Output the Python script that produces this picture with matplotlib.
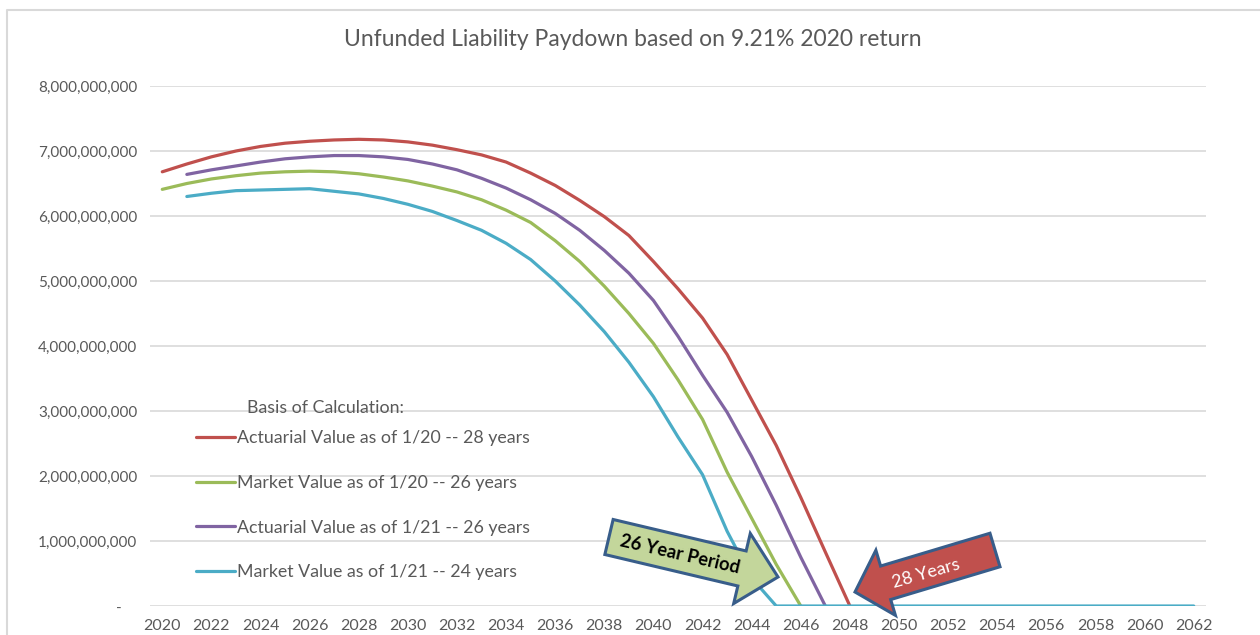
import numpy as np
import matplotlib
matplotlib.use("Agg")
from matplotlib import pyplot as plt
from matplotlib.patches import Polygon
from matplotlib.ticker import FuncFormatter

plt.rcParams['font.family'] = ['Lato', 'DejaVu Sans']

# data (billions)
years = list(range(2020, 2063))

act_20_years = list(range(2020, 2049))
act_20 = [6.68, 6.80, 6.91, 7.00, 7.07, 7.12, 7.15, 7.17, 7.18, 7.17,
          7.14, 7.09, 7.02, 6.94, 6.83, 6.66, 6.47, 6.24, 5.99, 5.70,
          5.30, 4.88, 4.43, 3.87, 3.17, 2.47, 1.67, 0.83, 0.0]

mkt_20_years = list(range(2020, 2047))
mkt_20 = [6.41, 6.50, 6.57, 6.62, 6.66, 6.68, 6.69, 6.68, 6.65, 6.60,
          6.54, 6.46, 6.37, 6.25, 6.09, 5.90, 5.62, 5.30, 4.92, 4.50,
          4.04, 3.48, 2.87, 2.06, 1.35, 0.64, 0.0]

act_21_years = list(range(2021, 2048))
act_21 = [6.64, 6.71, 6.77, 6.83, 6.88, 6.91, 6.93, 6.93, 6.91, 6.87,
          6.80, 6.71, 6.58, 6.43, 6.25, 6.04, 5.78, 5.47, 5.12, 4.70,
          4.15, 3.55, 2.98, 2.30, 1.55, 0.75, 0.0]

mkt_21_years = list(range(2021, 2063))
mkt_21 = [6.30, 6.35, 6.39, 6.40, 6.41, 6.42, 6.38, 6.34, 6.27, 6.18,
          6.07, 5.93, 5.78, 5.58, 5.33, 5.00, 4.63, 4.22, 3.75, 3.22,
          2.60, 2.02, 1.15, 0.43] + [0.0] * 18

labels = ['Actuarial Value as of 1/20 -- 28 years',
          'Market Value as of 1/20 -- 26 years',
          'Actuarial Value as of 1/21 -- 26 years',
          'Market Value as of 1/21 -- 24 years']
colors = ['#C0504D', '#9BBB59', '#8064A2', '#4BACC6']

txt = '#595959'
grid = '#D9D9D9'

fig = plt.figure(figsize=(12.6, 6.35), dpi=100)
ax = fig.add_axes([150/1260, 1-606/635, 1056/1260, 520/635])

series = [(act_20_years, act_20), (mkt_20_years, mkt_20),
          (act_21_years, act_21), (mkt_21_years, mkt_21)]
for (x, y), lab, c in zip(series, labels, colors):
    ax.plot(x, np.array(y)*1e9, color=c, lw=2.3, label=lab,
            solid_capstyle='round', solid_joinstyle='round')

ax.set_xlim(2019.5, 2062.5)
ax.set_ylim(0, 8e9)
ax.set_xticks(years[::2])
ax.set_yticks(np.arange(0, 8.1e9, 1e9))
ax.yaxis.set_major_formatter(FuncFormatter(lambda v, p: '-    ' if v == 0 else f'{v:,.0f}'))
ax.tick_params(length=0, labelcolor=txt)
ax.tick_params(axis='y', pad=9, labelsize=11)
ax.tick_params(axis='x', pad=9, labelsize=11.5)
ax.grid(axis='y', color=grid, lw=1.2)
ax.set_axisbelow(True)
for s in ax.spines.values():
    s.set_visible(False)

leg = ax.legend(loc='upper left', bbox_to_anchor=(46/1056, 176/520),
                frameon=False, fontsize=12.8, labelcolor=txt,
                handlelength=2.2, handletextpad=0.12, labelspacing=1.62,
                borderpad=0, borderaxespad=0)
fig.text(247/1260, 1-408/635, 'Basis of Calculation:', color=txt,
         fontsize=12.8, va='center', ha='left')

fig.text(0.502, 1-40/635, 'Unfunded Liability Paydown based on 9.21% 2020 return',
         color=txt, fontsize=16.5, ha='center', va='center')

# overlay in pixel coordinates for the border and block arrows
ov = fig.add_axes([0, 0, 1, 1], zorder=5)
ov.set_xlim(0, 1260)
ov.set_ylim(635, 0)
ov.axis('off')
ov.plot([7, 7, 1260], [635, 10, 10], color=grid, lw=1.5)


def block_arrow(tail, tip, body_w, head_w, head_len):
    tail = np.array(tail, float)
    tip = np.array(tip, float)
    d = tip - tail
    L = np.hypot(*d)
    u = d / L
    n = np.array([-u[1], u[0]])
    base = tip - u * head_len
    pts = [tail + n*body_w/2, base + n*body_w/2, base + n*head_w/2, tip,
           base - n*head_w/2, base - n*body_w/2, tail - n*body_w/2]
    return np.array(pts)


g = block_arrow((609, 537), (778, 577), 36, 72, 37)
ov.add_patch(Polygon(g, closed=True, facecolor='#C3D69B', edgecolor='#385D8A',
                     lw=2.2, joinstyle='miter'))
ov.text(680, 554, '26 Year Period', rotation=-13, fontsize=13.2, fontweight='bold',
        color='black', ha='center', va='center', rotation_mode='anchor')

r = block_arrow((995, 550), (855, 592), 35, 68, 32)
ov.add_patch(Polygon(r, closed=True, facecolor='#C0504D', edgecolor='#385D8A',
                     lw=2.2, joinstyle='miter'))
ov.text(926, 574, '28 Years', rotation=16, fontsize=13, color='white',
        ha='center', va='center', rotation_mode='anchor')

fig.savefig('out.png', dpi=100, facecolor='white')
